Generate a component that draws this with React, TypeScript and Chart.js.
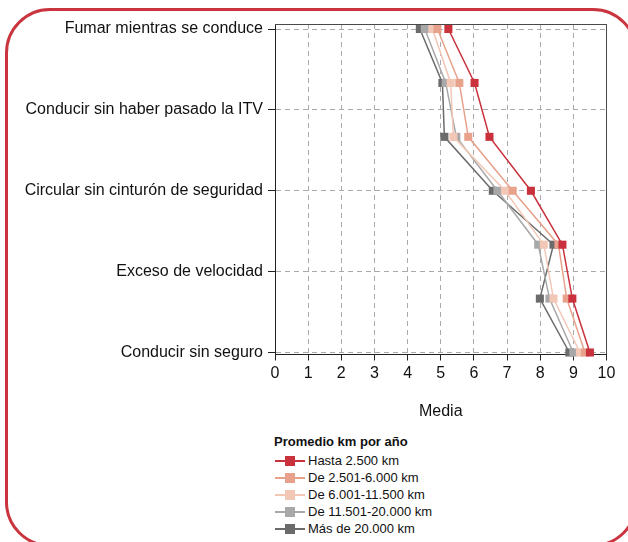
import React, { useEffect, useRef } from 'react';
import { Chart, registerables } from 'chart.js';

Chart.register(...registerables);

// Row labels shown on the y axis (5 labels spread over 7 data rows)
const rowLabels = [
  'Fumar mientras se conduce',
  'Conducir sin haber pasado la ITV',
  'Circular sin cinturón de seguridad',
  'Exceso de velocidad',
  'Conducir sin seguro',
];
const rowIndex = [0, 1, 2, 3, 4, 5, 6];

const seriesNames = [
  'Hasta 2.500 km',
  'De 2.501-6.000 km',
  'De 6.001-11.500 km',
  'De 11.501-20.000 km',
  'Más de 20.000 km',
];
const seriesColors = ['#c9323c', '#e8a28c', '#f3c7b6', '#a8a8a8', '#6b6b6b'];

const hasta2500 = [5.23, 6.02, 6.47, 7.72, 8.67, 8.97, 9.5];
const de2501a6000 = [4.9, 5.56, 5.83, 7.17, 8.55, 8.8, 9.35];
const de6001a11500 = [4.75, 5.3, 5.38, 6.94, 8.11, 8.4, 9.2];
const de11501a20000 = [4.52, 5.15, 5.47, 6.71, 7.94, 8.28, 9.0];
const mas20000 = [4.37, 5.05, 5.11, 6.57, 8.4, 7.99, 8.88];

const seriesValues = [hasta2500, de2501a6000, de6001a11500, de11501a20000, mas20000];

const xMin = 0;
const xMax = 10;
const xTitle = 'Media';
const legendTitle = 'Promedio km por año';

const FONT = "'Liberation Sans', Arial, Helvetica, sans-serif";

const framePlugin = {
  id: 'frame',
  afterDraw(chart: any) {
    const { ctx, chartArea: a } = chart;
    ctx.save();
    ctx.strokeStyle = '#4a4a4a';
    ctx.lineWidth = 1;
    ctx.beginPath();
    ctx.moveTo(a.left, Math.round(a.top) + 0.5);
    ctx.lineTo(a.right, Math.round(a.top) + 0.5);
    ctx.moveTo(Math.round(a.right) - 0.5, a.top);
    ctx.lineTo(Math.round(a.right) - 0.5, a.bottom);
    ctx.stroke();
    ctx.restore();
  },
};

export default function App() {
  const ref = useRef<HTMLCanvasElement | null>(null);

  useEffect(() => {
    if (!ref.current) return;
    const lastRow = rowIndex[rowIndex.length - 1];
    const labelStep = lastRow / (rowLabels.length - 1);
    const chart = new Chart(ref.current, {
      type: 'line',
      data: {
        datasets: seriesNames.map((name, i) => ({
          label: name,
          data: seriesValues[i].map((v, j) => ({ x: v, y: rowIndex[j] })),
          borderColor: seriesColors[i],
          backgroundColor: seriesColors[i],
          pointBackgroundColor: seriesColors[i],
          pointBorderWidth: 0,
          pointStyle: 'rect',
          pointRadius: 5.7,
          borderWidth: 1.5,
          tension: 0,
          fill: false,
          clip: false,
        })),
      },
      options: {
        animation: false,
        responsive: false,
        maintainAspectRatio: false,
        layout: { padding: { top: 24, right: 21.5, left: 0, bottom: 0 } },
        plugins: {
          legend: { display: false },
          tooltip: { enabled: false },
        },
        scales: {
          x: {
            type: 'linear',
            position: 'bottom',
            min: xMin,
            max: xMax,
            ticks: {
              stepSize: 1,
              color: '#111',
              font: { family: FONT, size: 16 },
              padding: 3,
            },
            grid: {
              color: '#aaaaaa',
              borderDash: [5, 4],
              tickBorderDash: [],
              tickColor: '#222',
              tickLength: 6,
              lineWidth: 1,
            } as any,
            border: { color: '#222', width: 1, dash: [5, 4] } as any,
            title: {
              display: true,
              text: xTitle,
              color: '#111',
              font: { family: FONT, size: 16 },
              padding: { top: 0, bottom: 9 },
            },
            afterFit: (scale: any) => {
              scale.height = 75.5;
            },
          },
          y: {
            type: 'linear',
            reverse: true,
            min: -0.093,
            max: lastRow + 0.037,
            afterBuildTicks: (scale: any) => {
              scale.ticks = rowLabels.map((_, i) => ({ value: i * labelStep }));
            },
            ticks: {
              color: '#111',
              font: { family: FONT, size: 16 },
              padding: 5,
              autoSkip: false,
              callback: (_v: any, i: number) => rowLabels[i],
            },
            grid: {
              color: '#aaaaaa',
              tickColor: '#222',
              tickLength: 7,
              lineWidth: 1,
            } as any,
            border: { color: '#222', width: 1 } as any,
            afterFit: (scale: any) => {
              scale.width = 275;
            },
          },
        },
      },
      plugins: [
        framePlugin,
        {
          id: 'dash',
          beforeInit(c: any) {
            // grid dash in Chart.js 4 is set on border.dash for grid lines
            c.options.scales.x.border.dash = [5, 4];
            c.options.scales.y.border.dash = [5, 4];
          },
        },
      ],
    });
    return () => chart.destroy();
  }, []);

  return (
    <div
      style={{
        position: 'fixed',
        left: 0,
        top: 0,
        width: 628,
        height: 542,
        overflow: 'hidden',
        background: '#fff',
        fontFamily: FONT,
      }}
    >
      <div
        style={{
          position: 'absolute',
          left: 4.5,
          top: 8,
          width: 633 - 6,
          height: 539 - 6,
          border: '3px solid #c9343e',
          borderRadius: 45,
        }}
      />
      <canvas
        ref={ref}
        width={628}
        height={430}
        style={{ position: 'absolute', left: 0, top: 0, width: 628, height: 430 }}
      />
      <div style={{ position: 'absolute', left: 274, top: 433, color: '#111' }}>
        <div style={{ fontWeight: 'bold', fontSize: 13, lineHeight: '18px', height: 18 }}>
          {legendTitle}
        </div>
        <div style={{ marginTop: 1 }}>
          {seriesNames.map((name, i) => (
            <div
              key={name}
              style={{ display: 'flex', alignItems: 'center', height: 17.1, fontSize: 13, lineHeight: '17px' }}
            >
              <div style={{ position: 'relative', width: 31, height: 10, marginRight: 3 }}>
                <div
                  style={{
                    position: 'absolute',
                    left: 1,
                    top: 4,
                    width: 30,
                    height: 2,
                    background: seriesColors[i],
                  }}
                />
                <div
                  style={{
                    position: 'absolute',
                    left: 11,
                    top: 0,
                    width: 10,
                    height: 10,
                    background: seriesColors[i],
                  }}
                />
              </div>
              <span style={{ whiteSpace: 'nowrap' }}>{name}</span>
            </div>
          ))}
        </div>
      </div>
    </div>
  );
}
